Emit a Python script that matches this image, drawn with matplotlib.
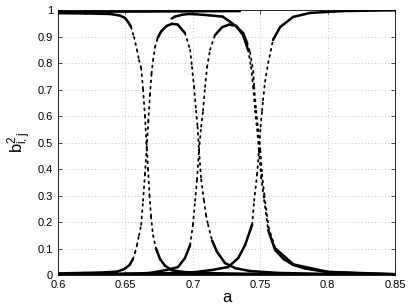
import numpy as np
import matplotlib
matplotlib.use("Agg")
from matplotlib import pyplot as plt
from matplotlib.collections import LineCollection

# curves: a value, squared coefficient
a_A = [0.600, 0.6204, 0.6306, 0.6386, 0.6460, 0.6497, 0.6520, 0.6542, 0.6564, 0.6586, 0.6601,
       0.6617, 0.6631, 0.6645, 0.6656, 0.6668, 0.6679, 0.6690, 0.6705, 0.6727, 0.6757, 0.6794,
       0.6846, 0.6919, 0.7021, 0.7225, 0.7531, 0.8042, 0.850]
b_A = [0.988, 0.987, 0.986, 0.985, 0.979, 0.970, 0.955, 0.936, 0.898, 0.849, 0.811,
       0.781, 0.700, 0.600, 0.500, 0.400, 0.300, 0.220, 0.150, 0.100, 0.060, 0.035,
       0.018, 0.012, 0.009, 0.006, 0.004, 0.002, 0.001]

a_B = [0.600, 0.620, 0.635, 0.6439, 0.6490, 0.6531, 0.6556, 0.6572, 0.6586, 0.6601, 0.6617, 0.6631,
       0.6645, 0.6658, 0.6670, 0.6682, 0.6694, 0.6705, 0.6720, 0.6740, 0.6766, 0.6806, 0.6847,
       0.6888, 0.6942, 0.6980, 0.6994, 0.7009, 0.7024, 0.7035, 0.7046, 0.7062, 0.7083, 0.7098,
       0.7113, 0.7143, 0.7180, 0.7239, 0.7314, 0.7425, 0.7633, 0.800, 0.850]
b_B = [0.006, 0.008, 0.010, 0.013, 0.022, 0.038, 0.060, 0.085, 0.113, 0.150, 0.190, 0.280,
       0.380, 0.480, 0.580, 0.680, 0.760, 0.810, 0.860, 0.895, 0.920, 0.940, 0.948,
       0.945, 0.913, 0.850, 0.785, 0.710, 0.620, 0.560, 0.470, 0.360, 0.280, 0.226,
       0.190, 0.130, 0.087, 0.045, 0.026, 0.015, 0.008, 0.004, 0.002]

a_C = [0.600, 0.6408, 0.6612, 0.6684, 0.6806, 0.6890, 0.6942, 0.6980, 0.7001, 0.7017, 0.7031, 0.7046,
       0.7062, 0.7076, 0.7091, 0.7106, 0.7128, 0.7164, 0.7217, 0.7269, 0.7321, 0.7373, 0.7410,
       0.7432, 0.7448, 0.7462, 0.7477, 0.7491, 0.7507, 0.7529, 0.7559, 0.7611, 0.7674, 0.7745,
       0.7837, 0.7997, 0.8246, 0.850]
b_C = [0.002, 0.004, 0.006, 0.008, 0.019, 0.030, 0.064, 0.113, 0.190, 0.280, 0.360, 0.470,
       0.560, 0.620, 0.710, 0.785, 0.850, 0.905, 0.935, 0.945, 0.940, 0.905, 0.850,
       0.785, 0.710, 0.620, 0.550, 0.470, 0.370, 0.283, 0.170, 0.094, 0.060, 0.038,
       0.024, 0.011, 0.006, 0.003]

a_D = [0.600, 0.6510, 0.6817, 0.7017, 0.7143, 0.7262, 0.7337, 0.7388, 0.7440, 0.7455, 0.7477, 0.7491,
       0.7503, 0.7514, 0.7521, 0.7536, 0.7559, 0.7595, 0.7648, 0.7745, 0.7870, 0.8115, 0.8348, 0.850]
b_D = [0.002, 0.004, 0.007, 0.011, 0.019, 0.030, 0.064, 0.113, 0.190, 0.280, 0.380, 0.470,
       0.560, 0.620, 0.660, 0.730, 0.800, 0.887, 0.936, 0.974, 0.989, 0.996, 0.998, 0.999]

a_E = [0.600, 0.650, 0.700, 0.7350]
b_E = [0.993, 0.994, 0.995, 0.996]

a_F = [0.6843, 0.6868, 0.6919, 0.6970, 0.7021, 0.7123, 0.7221, 0.7276, 0.7325, 0.7373, 0.7403,
       0.7425, 0.7448, 0.7455, 0.7470, 0.7485, 0.7501, 0.7513, 0.7531, 0.7562, 0.7613, 0.7746,
       0.8001, 0.850]
b_F = [0.968, 0.975, 0.982, 0.985, 0.984, 0.980, 0.975, 0.956, 0.937, 0.913, 0.875,
       0.840, 0.770, 0.710, 0.620, 0.550, 0.470, 0.380, 0.300, 0.180, 0.100, 0.040,
       0.012, 0.003]

a_G = [0.600, 0.650, 0.700, 0.750, 0.800, 0.850]
b_G = [0.004, 0.004, 0.003, 0.003, 0.002, 0.002]
b_H = [0.001, 0.001, 0.001, 0.0005, 0.0005, 0.0005]

curves = [(a_A, b_A), (a_B, b_B), (a_C, b_C), (a_D, b_D), (a_E, b_E), (a_F, b_F),
          (a_G, b_G), (a_G, b_H)]

x_ticks = [0.6, 0.65, 0.7, 0.75, 0.8, 0.85]
x_labels = ['0.6', '0.65', '0.7', '0.75', '0.8', '0.85']
y_ticks = [0, 0.1, 0.2, 0.3, 0.4, 0.5, 0.6, 0.7, 0.8, 0.9, 1]
y_labels = ['0', '0.1', '0.2', '0.3', '0.4', '0.5', '0.6', '0.7', '0.8', '0.9', '1']

plt.rcParams['font.family'] = ['Liberation Sans', 'DejaVu Sans']
plt.rcParams['mathtext.default'] = 'regular'

fig = plt.figure(figsize=(4.09, 3.08), dpi=100)
ax = fig.add_axes([0.1418, 0.1071, 0.8240, 0.8604])


def draw_curve(ax, a, b):
    a = np.asarray(a)
    b = np.asarray(b)
    pts = np.column_stack([a, b])
    segs = np.stack([pts[:-1], pts[1:]], axis=1)
    # steep pieces were sampled sparsely in the original, so they look dotted
    dx = np.diff(a) / 0.25 * 337
    dy = np.diff(b) * 265
    steep = np.abs(dy) > 3 * np.abs(dx)
    lws = np.where(steep, 1.3, 1.8)
    styles = [(0, (1, 2.5)) if s else '-' for s in steep]
    lc = LineCollection(segs, colors='k', linewidths=lws, linestyles=styles,
                        capstyle='round', zorder=3)
    ax.add_collection(lc)


for a, b in curves:
    draw_curve(ax, a, b)

ax.set_xlim(0.6, 0.85)
ax.set_ylim(0, 1)
ax.set_xticks(x_ticks)
ax.set_xticklabels(x_labels)
ax.set_yticks(y_ticks)
ax.set_yticklabels(y_labels)
ax.tick_params(direction='in', length=3, width=0.5, top=True, right=True,
               labelsize=8, pad=3.5)
ax.grid(True, linestyle=(0, (1, 3)), color='#b0b0b0', linewidth=0.6)
ax.set_axisbelow(True)
for sp in ax.spines.values():
    sp.set_linewidth(0.6)

ax.set_xlabel('a', fontsize=12, labelpad=0)
ax.set_ylabel(r'$b^{2}_{i,j}$', fontsize=12, labelpad=3)

fig.savefig('out.png', dpi=100)
